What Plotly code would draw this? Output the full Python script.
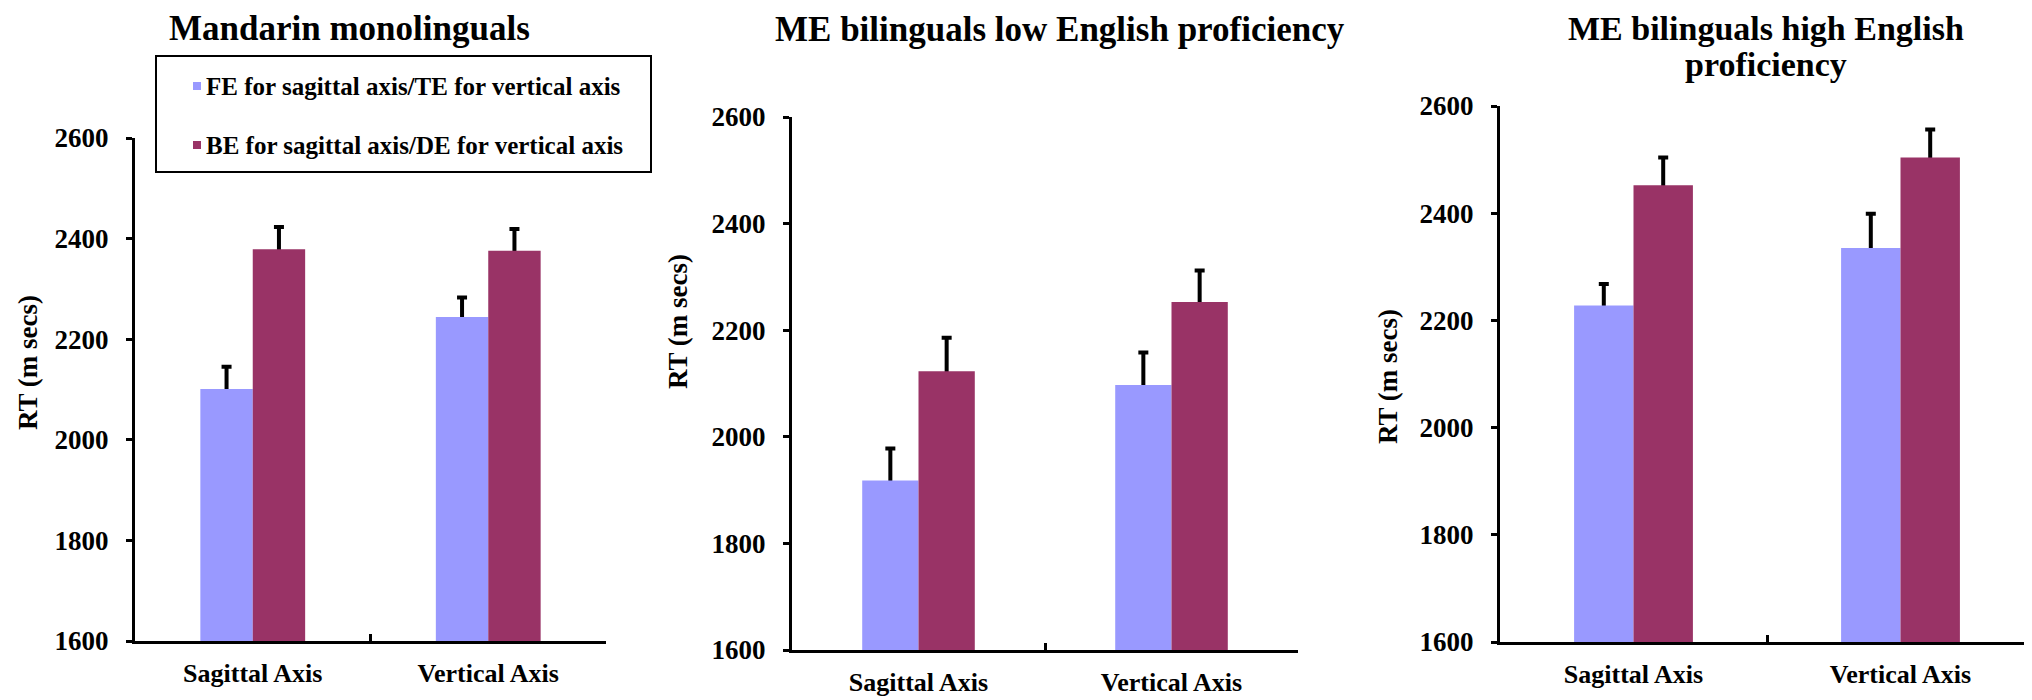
import plotly.graph_objects as go

# ---------------- data ----------------
categories = ["Sagittal Axis", "Vertical Axis"]
series_names = ["FE for sagittal axis/TE for vertical axis",
                "BE for sagittal axis/DE for vertical axis"]
panel_titles = [["Mandarin monolinguals"],
                ["ME bilinguals low English proficiency"],
                ["ME bilinguals high English", "proficiency"]]
y_title = "RT (m secs)"
y_ticks = [1600, 1800, 2000, 2200, 2400, 2600]

fe_mono = [2101, 2244]
be_mono = [2379, 2376]
fe_mono_err = [44, 39]
be_mono_err = [44, 43]

fe_low = [1918, 2097]
be_low = [2123, 2253]
fe_low_err = [60, 61]
be_low_err = [63, 59]

fe_high = [2228, 2335]
be_high = [2452, 2504]
fe_high_err = [40, 64]
be_high_err = [52, 52]

# ---------------- styling ----------------
W, H = 2032, 700
FONT = "Liberation Serif"
BLUE = "#9999FF"
RED = "#993366"
DY = -8  # vertical correction (px)


def X(px):
    return px / W


def Y(py):
    return 1 - (py + DY) / H


# panel pixel boxes: (x_left, x_right, y_top(2600), y_bottom(1600))
boxes = [(127, 598, 138, 641), (784, 1290, 117, 650), (1492, 2026, 106, 642)]
title_pos = [(341, [28], 35), (1052, [29], 35), (1758, [28, 65], 34)]
ytitle_pos = [(20, 363), (670, 322), (1380, 377)]

panels = [
    (fe_mono, be_mono, fe_mono_err, be_mono_err),
    (fe_low, be_low, fe_low_err, be_low_err),
    (fe_high, be_high, fe_high_err, be_high_err),
]

fig = go.Figure()
layout = dict(
    width=W, height=H,
    margin=dict(l=0, r=0, t=0, b=0, autoexpand=False),
    paper_bgcolor="white", plot_bgcolor="white",
    barmode="group", bargap=0.555, bargroupgap=0,
    showlegend=False,
    font=dict(family=FONT, color="black"),
)

annotations = []
shapes = []
for i, (fe, be, fe_e, be_e) in enumerate(panels):
    sfx = "" if i == 0 else str(i + 1)
    xa, ya = "x" + sfx, "y" + sfx
    series = ((fe, fe_e, BLUE, series_names[0], "g1"),
              (be, be_e, RED, series_names[1], "g2"))
    # error-bar carriers drawn first (transparent bars), so the real bars cover
    # the lower part of each error bar and only the upper "T" stays visible
    for vals, errs, color, name, grp in series:
        fig.add_trace(go.Bar(
            x=categories, y=vals, name=name, xaxis=xa, yaxis=ya,
            marker=dict(color="rgba(0,0,0,0)", line=dict(width=0)),
            error_y=dict(type="data", array=errs, arrayminus=[25] * len(errs),
                         symmetric=False, color="black", thickness=4, width=5),
            offsetgroup=grp, hoverinfo="skip",
        ))
    for vals, errs, color, name, grp in series:
        fig.add_trace(go.Bar(
            x=categories, y=vals, name=name, xaxis=xa, yaxis=ya,
            marker=dict(color=color, line=dict(width=0)),
            offsetgroup=grp,
        ))
    xl, xr, yt, yb = boxes[i]
    layout["xaxis" + sfx] = dict(
        domain=[X(xl), X(xr)], anchor=ya, automargin=False,
        showline=True, linecolor="black", linewidth=3,
        ticks="inside", tickson="boundaries", ticklen=7, tickwidth=3, tickcolor="black",
        showgrid=False, zeroline=False, fixedrange=True,
        tickfont=dict(family=FONT, size=26, color="black", weight="bold"),
        ticklabelstandoff=7,
    )
    layout["yaxis" + sfx] = dict(
        domain=[Y(yb), Y(yt)], anchor=xa, range=[1600, 2600], automargin=False,
        tickvals=y_ticks,
        showline=True, linecolor="black", linewidth=3,
        ticks="outside", ticklen=6, tickwidth=3, tickcolor="black",
        showgrid=False, zeroline=False, fixedrange=True,
        tickfont=dict(family=FONT, size=27, color="black", weight="bold"),
        ticklabelstandoff=12,
    )
    tx, tys, tsize = title_pos[i]
    for line, ty in zip(panel_titles[i], tys):
        annotations.append(dict(
            text=line, xref="paper", yref="paper", x=X(tx), y=Y(ty),
            xanchor="center", yanchor="middle", showarrow=False,
            font=dict(family=FONT, size=tsize, color="black", weight="bold"),
        ))
    qx, qy = ytitle_pos[i]
    annotations.append(dict(
        text=y_title, xref="paper", yref="paper", x=X(qx), y=Y(qy),
        xanchor="center", yanchor="middle", showarrow=False, textangle=-90,
        font=dict(family=FONT, size=27, color="black", weight="bold"),
    ))

# legend box (panel 1)
shapes.append(dict(type="rect", xref="paper", yref="paper",
                   x0=X(148), x1=X(643), y0=Y(172), y1=Y(56),
                   line=dict(color="black", width=2), fillcolor="white", layer="above"))
for row_y, color, name in ((86, BLUE, series_names[0]), (145, RED, series_names[1])):
    shapes.append(dict(type="rect", xref="paper", yref="paper",
                       x0=X(185), x1=X(193), y0=Y(row_y + 4), y1=Y(row_y - 4),
                       line=dict(width=0), fillcolor=color, layer="above"))
    annotations.append(dict(
        text=name, xref="paper", yref="paper", x=X(196), y=Y(row_y),
        xanchor="left", yanchor="middle", showarrow=False,
        font=dict(family=FONT, size=25, color="black", weight="bold"),
    ))

layout["annotations"] = annotations
layout["shapes"] = shapes
fig.update_layout(**layout)
fig.write_html("out.html")
